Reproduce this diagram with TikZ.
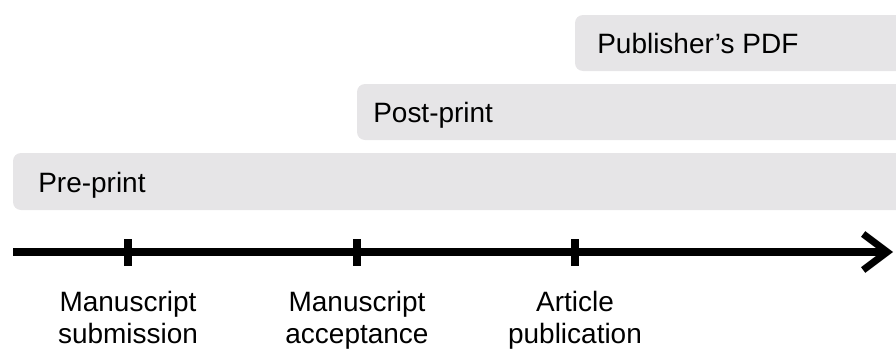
\documentclass[tikz,border=0pt]{standalone}
\usepackage{fontspec}
\setmainfont{Liberation Sans}
\usetikzlibrary{arrows.meta}
\definecolor{barfill}{RGB}{230,229,231}

\begin{document}
\begin{tikzpicture}[x=0.025cm,y=-0.025cm,
    font=\fontsize{19.9}{22.3}\selectfont,
    bar/.style={fill=barfill, rounded corners=0.2cm},
    tick/.style={line width=5.7pt},
    when/.style={anchor=base, align=center, inner sep=0pt}]
    % Definitions
    \coordinate (Start)   at (13,252);
    \coordinate (End)     at (893,252);
    \coordinate (Submit)  at (128,252);
    \coordinate (Accept)  at (357,252);
    \coordinate (Publish) at (575,252);
    \useasboundingbox (0,0) rectangle (896,350);
    \clip (0,0) rectangle (896,350);
    % Bars (run off the right edge)
    \fill[bar] (13,153) rectangle (930,210);
    \fill[bar] (357,84) rectangle (930,140);
    \fill[bar] (575,15) rectangle (930,71);
    % Nodes
    \node(PRE)  at (38,192)  [anchor=base west, inner sep=0pt] {Pre-print};
    \node(POST) at (373,122) [anchor=base west, inner sep=0pt] {Post-print};
    \node(PDF)  at (597,53)  [anchor=base west, inner sep=0pt] {Publisher’s PDF};
    % Timeline
    \draw[-{Straight Barb[length=0.6cm,width=0.9cm]}, line width=5pt] (Start) -- (End);
    \draw[tick] (Submit)  ++(0,-13) -- ++(0,27);
    \draw[tick] (Accept)  ++(0,-13) -- ++(0,27);
    \draw[tick] (Publish) ++(0,-13) -- ++(0,27);
    % Labels (base is the last line)
    \node(SUB) at (128,343) [when] {Manuscript\\submission};
    \node(ACC) at (357,343) [when] {Manuscript\\acceptance};
    \node(ART) at (575,343) [when] {Article\\publication};
\end{tikzpicture}
\end{document}
